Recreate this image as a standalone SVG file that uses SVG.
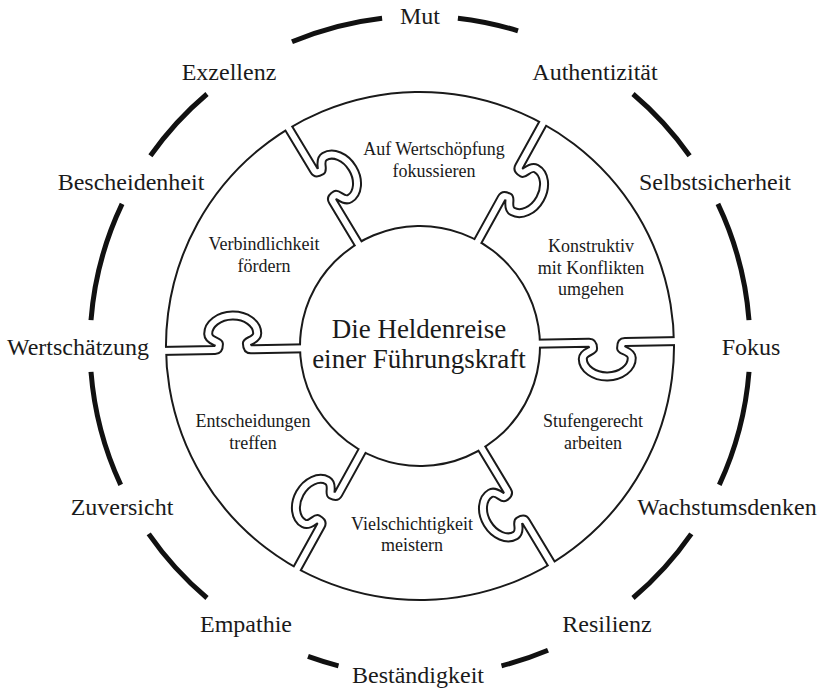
<svg xmlns="http://www.w3.org/2000/svg" xmlns:xlink="http://www.w3.org/1999/xlink" width="821" height="688" viewBox="0 0 821 688">
<style>
.lbl{font-family:"Liberation Serif","Times New Roman",serif;fill:#1a1a1a;text-anchor:middle}
.outer{font-size:24px}
.piece{font-size:18px}
.center{font-size:27px}
.ring{fill:none;stroke:#111;stroke-width:5}
.blk{fill:none;stroke:#1a1a1a;stroke-width:10;stroke-linejoin:round}
.wht{fill:none;stroke:#fff;stroke-width:6;stroke-linejoin:round}
</style>
<defs>
<path id="cut" d="M100 0 L169 0 C172.5 0 173 3 173 6 C173 8.5 162.5 9 162.5 16 C162.5 25.9 173.5 34 187 34 C200.5 34 211.5 25.9 211.5 16 C211.5 9 201 8.5 201 6 C201 3 201.5 0 205 0 L275 0"/>
<path id="head" d="M169 0 C172.5 0 173 3 173 6 C173 8.5 162.5 9 162.5 16 C162.5 25.9 173.5 34 187 34 C200.5 34 211.5 25.9 211.5 16 C211.5 9 201 8.5 201 6 C201 3 201.5 0 205 0 L205 -1 L169 -1 Z"/>
<g id="edges">
<circle r="258"/>
<circle r="116"/>
<use href="#cut" transform="rotate(-60)"/>
<use href="#cut" transform="rotate(-120)"/>
</g>
<mask id="pm" maskUnits="userSpaceOnUse" x="-300" y="-300" width="600" height="600">
<path d="M58 -100.46 L129 -223.43 A258 258 0 0 0 -129 -223.43 L-58 -100.46 A116 116 0 0 1 58 -100.46 Z" fill="#fff"/>
<use href="#head" transform="rotate(-60)" fill="#fff"/>
<use href="#head" transform="rotate(-120)" fill="#000"/>
</mask>
<g id="pieceShape">
<g mask="url(#pm)">
<use href="#edges" class="blk"/>
<use href="#edges" class="wht"/>
</g>
</g>
</defs>
<rect width="821" height="688" fill="#fff"/>
<g id="outer-ring">
<path class="ring" d="M457.9 18.2 A330 330 0 0 1 518 30.9"/>
<path class="ring" d="M633.0 94.0 A330 330 0 0 1 689.6 155.8"/>
<path class="ring" d="M717.9 203.9 A330 330 0 0 1 749.0 320.1"/>
<path class="ring" d="M749.0 371.9 A330 330 0 0 1 719.3 484.9"/>
<path class="ring" d="M691.3 533.9 A330 330 0 0 1 633.0 598.0"/>
<path class="ring" d="M548 650.2 A330 330 0 0 1 501.5 665.8"/>
<path class="ring" d="M338.5 665.8 A330 330 0 0 1 308 656.4"/>
<path class="ring" d="M207.0 598.0 A330 330 0 0 1 148.7 533.9"/>
<path class="ring" d="M120.7 484.9 A330 330 0 0 1 91.0 371.9"/>
<path class="ring" d="M91.0 320.1 A330 330 0 0 1 122.1 203.9"/>
<path class="ring" d="M150.4 155.8 A330 330 0 0 1 207.0 94.0"/>
<path class="ring" d="M292 41.8 A330 330 0 0 1 382.1 18.2"/>
</g>
<g id="values" class="lbl outer">
<text x="420" y="24">Mut</text>
<text x="595" y="80">Authentizität</text>
<text x="715" y="190">Selbstsicherheit</text>
<text x="751" y="355">Fokus</text>
<text x="727" y="515">Wachstumsdenken</text>
<text x="607" y="632">Resilienz</text>
<text x="418" y="683">Beständigkeit</text>
<text x="246" y="632">Empathie</text>
<text x="122" y="515">Zuversicht</text>
<text x="78" y="355">Wertschätzung</text>
<text x="131" y="190">Bescheidenheit</text>
<text x="229" y="80">Exzellenz</text>
</g>
<g id="piece-wertschoepfung">
<use href="#pieceShape" transform="translate(420 346) rotate(-1.1)"/>
<text class="lbl piece" x="434" y="155">Auf Wertschöpfung</text>
<text class="lbl piece" x="434" y="177">fokussieren</text>
</g>
<g id="piece-konflikte">
<use href="#pieceShape" transform="translate(420 346) rotate(58.9)"/>
<text class="lbl piece" x="591" y="252">Konstruktiv</text>
<text class="lbl piece" x="591" y="274">mit Konflikten</text>
<text class="lbl piece" x="591" y="295">umgehen</text>
</g>
<g id="piece-stufengerecht">
<use href="#pieceShape" transform="translate(420 346) rotate(118.9)"/>
<text class="lbl piece" x="593" y="427">Stufengerecht</text>
<text class="lbl piece" x="593" y="449">arbeiten</text>
</g>
<g id="piece-vielschichtigkeit">
<use href="#pieceShape" transform="translate(420 346) rotate(178.9)"/>
<text class="lbl piece" x="412" y="530">Vielschichtigkeit</text>
<text class="lbl piece" x="412" y="551">meistern</text>
</g>
<g id="piece-entscheidungen">
<use href="#pieceShape" transform="translate(420 346) rotate(238.9)"/>
<text class="lbl piece" x="253" y="427">Entscheidungen</text>
<text class="lbl piece" x="253" y="449">treffen</text>
</g>
<g id="piece-verbindlichkeit">
<use href="#pieceShape" transform="translate(420 346) rotate(298.9)"/>
<text class="lbl piece" x="264" y="250">Verbindlichkeit</text>
<text class="lbl piece" x="264" y="272">fördern</text>
</g>
<g id="center">
<text class="lbl center" x="419" y="338">Die Heldenreise</text>
<text class="lbl center" x="419" y="368">einer Führungskraft</text>
</g>
</svg>
